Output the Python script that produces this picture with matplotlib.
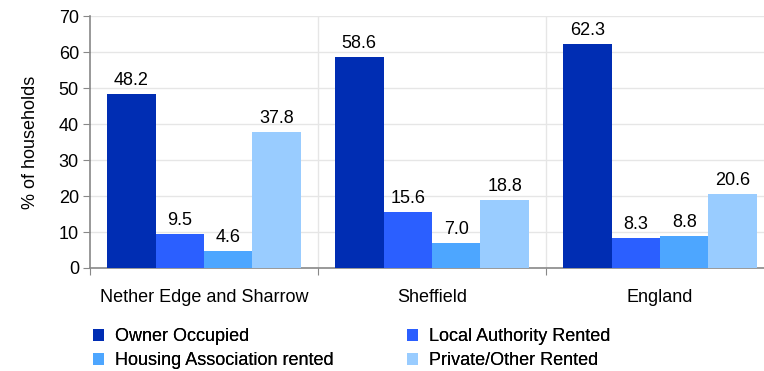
import numpy as np
import matplotlib.pyplot as plt
from matplotlib.patches import Patch

plt.rcParams['font.family'] = ['Liberation Sans', 'DejaVu Sans']

# ----- data ---------------------------------------------------------

areas = ["Nether Edge and Sharrow", "Sheffield", "England"]
series = ["Owner Occupied", "Local Authority Rented",
          "Housing Association rented", "Private/Other Rented"]
owner = [48.2, 58.6, 62.3]
local_auth = [9.5, 15.6, 8.3]
housing_assoc = [4.6, 7.0, 8.8]
private_other = [37.8, 18.8, 20.6]
values = [owner, local_auth, housing_assoc, private_other]
colors = ["#002db3", "#2b5fff", "#4da6ff", "#99ccff"]

fs = 13

# ----- plot ---------------------------------------------------------

fig = plt.figure(figsize=(7.64, 3.71), dpi=100)
ax = fig.add_axes([90/764, 1 - 268/371, 684/764, 252/371])

x = np.arange(len(areas))
bw = 0.2127
for i, (vals, col) in enumerate(zip(values, colors)):
    pos = x + (i - 1.5) * bw
    ax.bar(pos, vals, width=bw, color=col, zorder=3)
    for p, v in zip(pos, vals):
        ax.text(p, v + 1.4, f"{v:.1f}", ha="center", va="bottom", fontsize=fs)

ax.set_xlim(-0.5, 2.5)
ax.set_ylim(0, 70)
ax.set_yticks(range(0, 71, 10))
ax.tick_params(axis="y", labelsize=fs, length=5, color="#888888", pad=3)
ax.set_ylabel("% of households", fontsize=fs, labelpad=14)

# category labels between boundary ticks
ax.set_xticks([-0.5, 0.5, 1.5, 2.5])
ax.set_xticklabels([])
ax.set_xticks(x, minor=True)
ax.set_xticklabels(areas, minor=True, fontsize=fs)
ax.tick_params(axis="x", which="major", length=5, color="#888888")
ax.tick_params(axis="x", which="minor", length=0, pad=15)

ax.grid(axis="y", color="#e6e6e6", lw=1, zorder=0)
for b in [0.5, 1.5]:
    ax.axvline(b, color="#e6e6e6", lw=1, zorder=0)

for s in ["top", "right"]:
    ax.spines[s].set_visible(False)
for s in ["left", "bottom"]:
    ax.spines[s].set_color("#888888")
    ax.spines[s].set_linewidth(1.2)

# legend: two columns, row-wise order
handles = [Patch(facecolor=c, edgecolor="none") for c in colors]
for idx, xl in [((0, 2), 86), ((1, 3), 400)]:
    leg = fig.legend([handles[k] for k in idx], [series[k] for k in idx],
                     loc="upper left", bbox_to_anchor=(xl/764, 1 - 321/371),
                     frameon=False, fontsize=fs, handlelength=0.6,
                     handleheight=0.6, handletextpad=0.6, labelspacing=0.4,
                     borderaxespad=0)
    fig.add_artist(leg)

plt.savefig("out.png", dpi=100)
